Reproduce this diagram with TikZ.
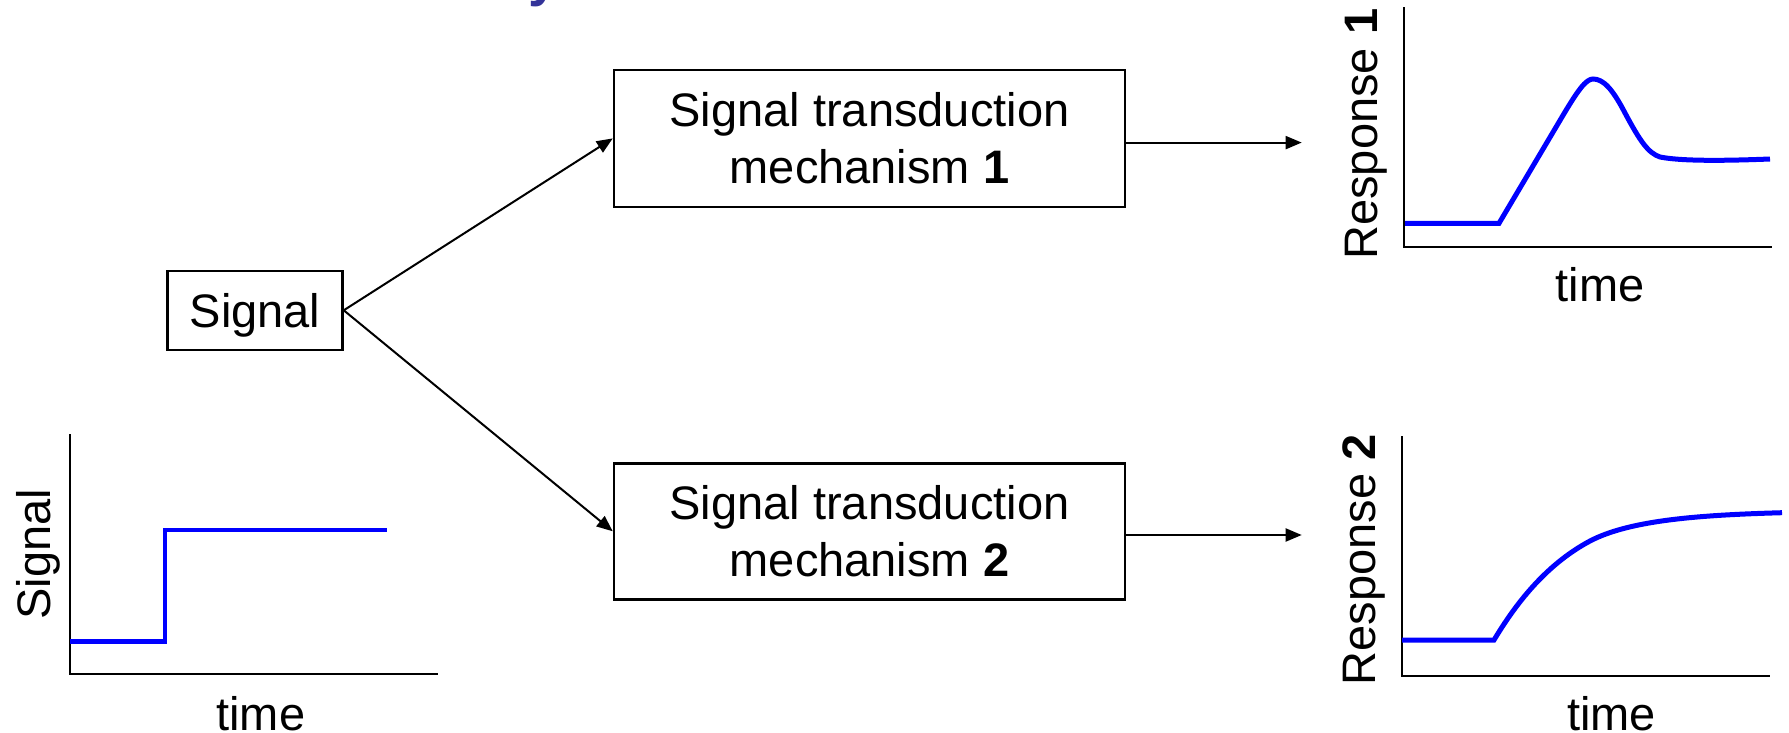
\documentclass[tikz,border=0pt]{standalone}
\usepackage{fontspec}
\setmainfont{Liberation Sans}
\usetikzlibrary{arrows.meta}

\definecolor{curveblue}{RGB}{0,0,255}
\definecolor{titleblue}{RGB}{51,51,153}

\tikzset{
  label font/.style={font=\fontsize{47}{57}\selectfont},
  stagebox/.style={draw=black, line width=2.5pt, fill=white, label font,
    align=center, inner sep=0pt},
  flow/.style={draw=black, line width=2pt, -{Triangle[length=16pt,width=13pt]}},
  axis/.style={draw=black, line width=2pt},
  trace/.style={draw=curveblue, line width=5pt},
  axislabel/.style={label font, inner sep=0pt, anchor=base},
}

\begin{document}
\begin{tikzpicture}[x=1pt, y=-1pt]
  \useasboundingbox (0,0) rectangle (1789,733);

  % tail of the heading that runs off the top edge
  \begin{scope}
    \clip (0,0) rectangle (1789,733);
    \node[anchor=base west, inner sep=0pt, text=titleblue,
      font=\fontsize{55}{60}\selectfont\bfseries] (headtail) at (527.8,-4.3) {y};
  \end{scope}

  % signal and the two transduction stages
  \node[stagebox, minimum width=175pt, minimum height=79pt, text depth=0pt]
    (signal) at (255,310.3) {Signal};
  \node[stagebox, minimum width=511pt, minimum height=136.7pt]
    (mech1) at (869.5,138.4) {Signal transduction\\mechanism \textbf{1}};
  \node[stagebox, minimum width=511pt, minimum height=136pt]
    (mech2) at (869.5,531.3) {Signal transduction\\mechanism \textbf{2}};

  \coordinate (out1) at (1301.7,142.6);
  \coordinate (out2) at (1301.7,535);

  \draw[flow] (signal.east) -- (mech1.west);
  \draw[flow] (signal.east) -- (mech2.west);
  \draw[flow] (mech1.east |- out1) -- (out1);
  \draw[flow] (mech2.east |- out2) -- (out2);

  % input: step signal
  \draw[axis] (70,434) -- (70,673.5) -- (437.7,673.5);
  \draw[draw=curveblue, line width=4.5pt] (70,641.7) -- (165,641.7) -- (165,530) -- (387.3,530);
  \node[axislabel, rotate=90] (sigy) at (50,554.2) {Signal};
  \node[axislabel] (sigx) at (260.8,730) {time};

  % response 1: transient peak that settles
  \draw[axis] (1404,7.3) -- (1404,247.3) -- (1771.7,247.3);
  \draw[trace] (1405,223.3) -- (1499,223.3) -- (1562,117)
    .. controls (1578,90) and (1586,79) .. (1593,79)
    .. controls (1603,79) and (1612,88) .. (1625,113)
    .. controls (1640,141) and (1648,153) .. (1660,157)
    .. controls (1680,161) and (1720,161) .. (1770,159);
  \node[axislabel, rotate=90] (r1y) at (1377.3,134.2) {Response \textbf{1}};
  \node[axislabel] (r1x) at (1600,301.7) {time};

  % response 2: gradual rise to a plateau
  \draw[axis] (1402,436) -- (1402,676) -- (1770,676);
  \draw[trace] (1402,640) -- (1494,640)
    .. controls (1515,605) and (1545,565) .. (1590,541)
    .. controls (1630,520) and (1700,515) .. (1782,512.7);
  \node[axislabel, rotate=90] (r2y) at (1375,560) {Response \textbf{2}};
  \node[axislabel] (r2x) at (1611.7,730) {time};
\end{tikzpicture}
\end{document}
